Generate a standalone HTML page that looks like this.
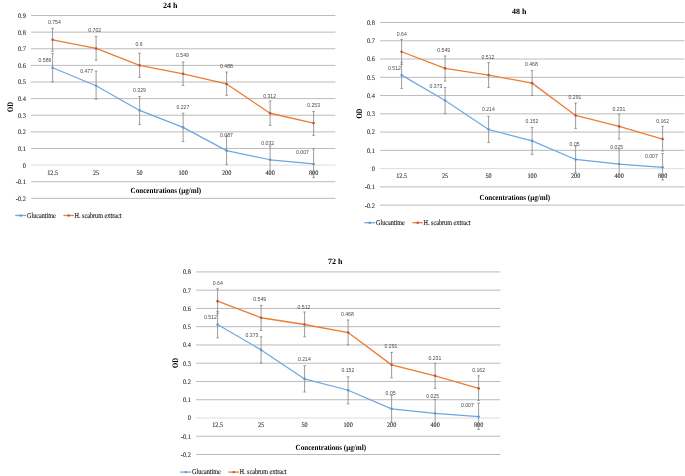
<!DOCTYPE html>
<html><head><meta charset="utf-8"><title>OD charts</title>
<style>html,body{margin:0;padding:0;background:#fff;} svg{display:block;will-change:transform;text-rendering:geometricPrecision;}</style></head>
<body>
<svg width="685" height="476" viewBox="0 0 685 476">
<rect width="685" height="476" fill="#fff"/>
<line x1="31.00" y1="15.52" x2="335.40" y2="15.52" stroke="#b3b3b3" stroke-width="0.9"/>
<text transform="translate(25.80,17.92) scale(1,1.1)" text-anchor="end" font-family='"Liberation Serif", serif' font-size="6.3" fill="#2a2a2a" stroke="#2a2a2a" stroke-width="0.1">0.9</text>
<line x1="31.00" y1="32.14" x2="335.40" y2="32.14" stroke="#b3b3b3" stroke-width="0.9"/>
<text transform="translate(25.80,34.54) scale(1,1.1)" text-anchor="end" font-family='"Liberation Serif", serif' font-size="6.3" fill="#2a2a2a" stroke="#2a2a2a" stroke-width="0.1">0.8</text>
<line x1="31.00" y1="48.76" x2="335.40" y2="48.76" stroke="#b3b3b3" stroke-width="0.9"/>
<text transform="translate(25.80,51.16) scale(1,1.1)" text-anchor="end" font-family='"Liberation Serif", serif' font-size="6.3" fill="#2a2a2a" stroke="#2a2a2a" stroke-width="0.1">0.7</text>
<line x1="31.00" y1="65.38" x2="335.40" y2="65.38" stroke="#b3b3b3" stroke-width="0.9"/>
<text transform="translate(25.80,67.78) scale(1,1.1)" text-anchor="end" font-family='"Liberation Serif", serif' font-size="6.3" fill="#2a2a2a" stroke="#2a2a2a" stroke-width="0.1">0.6</text>
<line x1="31.00" y1="82.00" x2="335.40" y2="82.00" stroke="#b3b3b3" stroke-width="0.9"/>
<text transform="translate(25.80,84.40) scale(1,1.1)" text-anchor="end" font-family='"Liberation Serif", serif' font-size="6.3" fill="#2a2a2a" stroke="#2a2a2a" stroke-width="0.1">0.5</text>
<line x1="31.00" y1="98.62" x2="335.40" y2="98.62" stroke="#b3b3b3" stroke-width="0.9"/>
<text transform="translate(25.80,101.02) scale(1,1.1)" text-anchor="end" font-family='"Liberation Serif", serif' font-size="6.3" fill="#2a2a2a" stroke="#2a2a2a" stroke-width="0.1">0.4</text>
<line x1="31.00" y1="115.24" x2="335.40" y2="115.24" stroke="#b3b3b3" stroke-width="0.9"/>
<text transform="translate(25.80,117.64) scale(1,1.1)" text-anchor="end" font-family='"Liberation Serif", serif' font-size="6.3" fill="#2a2a2a" stroke="#2a2a2a" stroke-width="0.1">0.3</text>
<line x1="31.00" y1="131.86" x2="335.40" y2="131.86" stroke="#b3b3b3" stroke-width="0.9"/>
<text transform="translate(25.80,134.26) scale(1,1.1)" text-anchor="end" font-family='"Liberation Serif", serif' font-size="6.3" fill="#2a2a2a" stroke="#2a2a2a" stroke-width="0.1">0.2</text>
<line x1="31.00" y1="148.48" x2="335.40" y2="148.48" stroke="#b3b3b3" stroke-width="0.9"/>
<text transform="translate(25.80,150.88) scale(1,1.1)" text-anchor="end" font-family='"Liberation Serif", serif' font-size="6.3" fill="#2a2a2a" stroke="#2a2a2a" stroke-width="0.1">0.1</text>
<line x1="31.00" y1="165.10" x2="335.40" y2="165.10" stroke="#d9d9d9" stroke-width="0.9"/>
<text transform="translate(25.80,167.50) scale(1,1.1)" text-anchor="end" font-family='"Liberation Serif", serif' font-size="6.3" fill="#2a2a2a" stroke="#2a2a2a" stroke-width="0.1">0</text>
<line x1="31.00" y1="181.72" x2="335.40" y2="181.72" stroke="#b3b3b3" stroke-width="0.9"/>
<text transform="translate(25.80,184.12) scale(1,1.1)" text-anchor="end" font-family='"Liberation Serif", serif' font-size="6.3" fill="#2a2a2a" stroke="#2a2a2a" stroke-width="0.1">-0.1</text>
<line x1="31.00" y1="198.34" x2="335.40" y2="198.34" stroke="#b3b3b3" stroke-width="0.9"/>
<text transform="translate(25.80,200.74) scale(1,1.1)" text-anchor="end" font-family='"Liberation Serif", serif' font-size="6.3" fill="#2a2a2a" stroke="#2a2a2a" stroke-width="0.1">-0.2</text>
<text transform="translate(52.60,174.60) scale(1,1.12)" text-anchor="middle" font-family='"Liberation Serif", serif' font-size="6.2" fill="#2a2a2a" stroke="#2a2a2a" stroke-width="0.1">12.5</text>
<text transform="translate(96.10,174.60) scale(1,1.12)" text-anchor="middle" font-family='"Liberation Serif", serif' font-size="6.2" fill="#2a2a2a" stroke="#2a2a2a" stroke-width="0.1">25</text>
<text transform="translate(139.60,174.60) scale(1,1.12)" text-anchor="middle" font-family='"Liberation Serif", serif' font-size="6.2" fill="#2a2a2a" stroke="#2a2a2a" stroke-width="0.1">50</text>
<text transform="translate(183.10,174.60) scale(1,1.12)" text-anchor="middle" font-family='"Liberation Serif", serif' font-size="6.2" fill="#2a2a2a" stroke="#2a2a2a" stroke-width="0.1">100</text>
<text transform="translate(226.60,174.60) scale(1,1.12)" text-anchor="middle" font-family='"Liberation Serif", serif' font-size="6.2" fill="#2a2a2a" stroke="#2a2a2a" stroke-width="0.1">200</text>
<text transform="translate(270.10,174.60) scale(1,1.12)" text-anchor="middle" font-family='"Liberation Serif", serif' font-size="6.2" fill="#2a2a2a" stroke="#2a2a2a" stroke-width="0.1">400</text>
<text transform="translate(313.60,174.60) scale(1,1.12)" text-anchor="middle" font-family='"Liberation Serif", serif' font-size="6.2" fill="#2a2a2a" stroke="#2a2a2a" stroke-width="0.1">800</text>
<text transform="translate(170.20,7.60)" text-anchor="middle" font-family='"Liberation Serif", serif' font-size="8" font-weight="bold" fill="#000">24 h</text>
<text transform="translate(165.80,192.90) scale(1,1.1)" text-anchor="middle" font-family='"Liberation Serif", serif' font-size="7.1" font-weight="bold" fill="#000">Concentrations (µg/ml)</text>
<text transform="translate(13.20,107.00) rotate(-90) scale(1,1.25)" text-anchor="middle" font-family='"Liberation Serif", serif' font-size="6.7" font-weight="bold" fill="#000">OD</text>
<line x1="15.30" y1="215.50" x2="26.10" y2="215.50" stroke="#6ea6df" stroke-width="1.3"/>
<circle cx="20.70" cy="215.50" r="1.2" fill="#5B9BD5"/>
<text transform="translate(27.00,217.70) scale(1,1.2)" font-family='"Liberation Serif", serif' font-size="6.2" fill="#222" stroke="#222" stroke-width="0.12">Glucantime</text>
<line x1="63.40" y1="215.50" x2="74.00" y2="215.50" stroke="#ED7D31" stroke-width="1.3"/>
<circle cx="68.70" cy="215.50" r="1.2" fill="#C0504D"/>
<text transform="translate(74.50,217.70) scale(1,1.2)" font-family='"Liberation Serif", serif' font-size="6.2" fill="#222" stroke="#222" stroke-width="0.12">H. scabrum extract</text>
<path d="M52.60 53.60V82.00M51.30 53.60H53.90M51.30 82.00H53.90" stroke="#8a8a8a" stroke-width="0.85" fill="none"/>
<path d="M96.10 71.10V99.20M94.80 71.10H97.40M94.80 99.20H97.40" stroke="#8a8a8a" stroke-width="0.85" fill="none"/>
<path d="M139.60 96.40V124.40M138.30 96.40H140.90M138.30 124.40H140.90" stroke="#8a8a8a" stroke-width="0.85" fill="none"/>
<path d="M183.10 113.20V141.60M181.80 113.20H184.40M181.80 141.60H184.40" stroke="#8a8a8a" stroke-width="0.85" fill="none"/>
<path d="M226.60 136.00V164.60M225.30 136.00H227.90M225.30 164.60H227.90" stroke="#8a8a8a" stroke-width="0.85" fill="none"/>
<path d="M270.10 146.00V174.00M268.80 146.00H271.40M268.80 174.00H271.40" stroke="#8a8a8a" stroke-width="0.85" fill="none"/>
<path d="M313.60 148.80V177.60M312.30 148.80H314.90M312.30 177.60H314.90" stroke="#8a8a8a" stroke-width="0.85" fill="none"/>
<polyline points="52.60,67.71 96.10,85.82 139.60,110.42 183.10,127.37 226.60,150.64 270.10,159.78 313.60,163.94" fill="none" stroke="#6ea6df" stroke-width="1.2" stroke-linejoin="round"/>
<circle cx="52.60" cy="67.71" r="1.3" fill="#5B9BD5"/>
<circle cx="96.10" cy="85.82" r="1.3" fill="#5B9BD5"/>
<circle cx="139.60" cy="110.42" r="1.3" fill="#5B9BD5"/>
<circle cx="183.10" cy="127.37" r="1.3" fill="#5B9BD5"/>
<circle cx="226.60" cy="150.64" r="1.3" fill="#5B9BD5"/>
<circle cx="270.10" cy="159.78" r="1.3" fill="#5B9BD5"/>
<circle cx="313.60" cy="163.94" r="1.3" fill="#5B9BD5"/>
<path d="M52.60 28.40V51.20M51.30 28.40H53.90M51.30 51.20H53.90" stroke="#8a8a8a" stroke-width="0.85" fill="none"/>
<path d="M96.10 36.40V60.30M94.80 36.40H97.40M94.80 60.30H97.40" stroke="#8a8a8a" stroke-width="0.85" fill="none"/>
<path d="M139.60 53.20V77.40M138.30 53.20H140.90M138.30 77.40H140.90" stroke="#8a8a8a" stroke-width="0.85" fill="none"/>
<path d="M183.10 62.00V85.40M181.80 62.00H184.40M181.80 85.40H184.40" stroke="#8a8a8a" stroke-width="0.85" fill="none"/>
<path d="M226.60 72.00V95.40M225.30 72.00H227.90M225.30 95.40H227.90" stroke="#8a8a8a" stroke-width="0.85" fill="none"/>
<path d="M270.10 101.00V125.40M268.80 101.00H271.40M268.80 125.40H271.40" stroke="#8a8a8a" stroke-width="0.85" fill="none"/>
<path d="M313.60 111.40V135.40M312.30 111.40H314.90M312.30 135.40H314.90" stroke="#8a8a8a" stroke-width="0.85" fill="none"/>
<polyline points="52.60,39.79 96.10,48.43 139.60,65.38 183.10,73.86 226.60,83.99 270.10,113.25 313.60,123.05" fill="none" stroke="#ED7D31" stroke-width="1.3" stroke-linejoin="round"/>
<circle cx="52.60" cy="39.79" r="1.3" fill="#C0504D"/>
<circle cx="96.10" cy="48.43" r="1.3" fill="#C0504D"/>
<circle cx="139.60" cy="65.38" r="1.3" fill="#C0504D"/>
<circle cx="183.10" cy="73.86" r="1.3" fill="#C0504D"/>
<circle cx="226.60" cy="83.99" r="1.3" fill="#C0504D"/>
<circle cx="270.10" cy="113.25" r="1.3" fill="#C0504D"/>
<circle cx="313.60" cy="123.05" r="1.3" fill="#C0504D"/>
<text transform="translate(45.00,62.20) scale(1.03,1)" text-anchor="middle" font-family='"Liberation Sans", sans-serif' font-size="5" fill="#4a4a4a" text-rendering="optimizeLegibility">0.586</text>
<text transform="translate(86.60,73.20) scale(1.03,1)" text-anchor="middle" font-family='"Liberation Sans", sans-serif' font-size="5" fill="#4a4a4a" text-rendering="optimizeLegibility">0.477</text>
<text transform="translate(139.50,91.90) scale(1.03,1)" text-anchor="middle" font-family='"Liberation Sans", sans-serif' font-size="5" fill="#4a4a4a" text-rendering="optimizeLegibility">0.329</text>
<text transform="translate(182.80,109.10) scale(1.03,1)" text-anchor="middle" font-family='"Liberation Sans", sans-serif' font-size="5" fill="#4a4a4a" text-rendering="optimizeLegibility">0.227</text>
<text transform="translate(226.50,136.90) scale(1.03,1)" text-anchor="middle" font-family='"Liberation Sans", sans-serif' font-size="5" fill="#4a4a4a" text-rendering="optimizeLegibility">0.087</text>
<text transform="translate(267.70,144.50) scale(1.03,1)" text-anchor="middle" font-family='"Liberation Sans", sans-serif' font-size="5" fill="#4a4a4a" text-rendering="optimizeLegibility">0.032</text>
<text transform="translate(302.50,153.50) scale(1.03,1)" text-anchor="middle" font-family='"Liberation Sans", sans-serif' font-size="5" fill="#4a4a4a" text-rendering="optimizeLegibility">0.007</text>
<text transform="translate(54.30,24.10) scale(1.03,1)" text-anchor="middle" font-family='"Liberation Sans", sans-serif' font-size="5" fill="#4a4a4a" text-rendering="optimizeLegibility">0.754</text>
<text transform="translate(94.70,32.30) scale(1.03,1)" text-anchor="middle" font-family='"Liberation Sans", sans-serif' font-size="5" fill="#4a4a4a" text-rendering="optimizeLegibility">0.702</text>
<text transform="translate(139.00,45.50) scale(1.03,1)" text-anchor="middle" font-family='"Liberation Sans", sans-serif' font-size="5" fill="#4a4a4a" text-rendering="optimizeLegibility">0.6</text>
<text transform="translate(182.50,56.90) scale(1.03,1)" text-anchor="middle" font-family='"Liberation Sans", sans-serif' font-size="5" fill="#4a4a4a" text-rendering="optimizeLegibility">0.549</text>
<text transform="translate(226.50,67.90) scale(1.03,1)" text-anchor="middle" font-family='"Liberation Sans", sans-serif' font-size="5" fill="#4a4a4a" text-rendering="optimizeLegibility">0.488</text>
<text transform="translate(269.60,97.70) scale(1.03,1)" text-anchor="middle" font-family='"Liberation Sans", sans-serif' font-size="5" fill="#4a4a4a" text-rendering="optimizeLegibility">0.312</text>
<text transform="translate(313.60,106.90) scale(1.03,1)" text-anchor="middle" font-family='"Liberation Sans", sans-serif' font-size="5" fill="#4a4a4a" text-rendering="optimizeLegibility">0.253</text>
<line x1="380.00" y1="22.52" x2="684.40" y2="22.52" stroke="#b3b3b3" stroke-width="0.9"/>
<text transform="translate(374.80,24.92) scale(1,1.1)" text-anchor="end" font-family='"Liberation Serif", serif' font-size="6.3" fill="#2a2a2a" stroke="#2a2a2a" stroke-width="0.1">0.8</text>
<line x1="380.00" y1="40.78" x2="684.40" y2="40.78" stroke="#b3b3b3" stroke-width="0.9"/>
<text transform="translate(374.80,43.18) scale(1,1.1)" text-anchor="end" font-family='"Liberation Serif", serif' font-size="6.3" fill="#2a2a2a" stroke="#2a2a2a" stroke-width="0.1">0.7</text>
<line x1="380.00" y1="59.04" x2="684.40" y2="59.04" stroke="#b3b3b3" stroke-width="0.9"/>
<text transform="translate(374.80,61.44) scale(1,1.1)" text-anchor="end" font-family='"Liberation Serif", serif' font-size="6.3" fill="#2a2a2a" stroke="#2a2a2a" stroke-width="0.1">0.6</text>
<line x1="380.00" y1="77.30" x2="684.40" y2="77.30" stroke="#b3b3b3" stroke-width="0.9"/>
<text transform="translate(374.80,79.70) scale(1,1.1)" text-anchor="end" font-family='"Liberation Serif", serif' font-size="6.3" fill="#2a2a2a" stroke="#2a2a2a" stroke-width="0.1">0.5</text>
<line x1="380.00" y1="95.56" x2="684.40" y2="95.56" stroke="#b3b3b3" stroke-width="0.9"/>
<text transform="translate(374.80,97.96) scale(1,1.1)" text-anchor="end" font-family='"Liberation Serif", serif' font-size="6.3" fill="#2a2a2a" stroke="#2a2a2a" stroke-width="0.1">0.4</text>
<line x1="380.00" y1="113.82" x2="684.40" y2="113.82" stroke="#b3b3b3" stroke-width="0.9"/>
<text transform="translate(374.80,116.22) scale(1,1.1)" text-anchor="end" font-family='"Liberation Serif", serif' font-size="6.3" fill="#2a2a2a" stroke="#2a2a2a" stroke-width="0.1">0.3</text>
<line x1="380.00" y1="132.08" x2="684.40" y2="132.08" stroke="#b3b3b3" stroke-width="0.9"/>
<text transform="translate(374.80,134.48) scale(1,1.1)" text-anchor="end" font-family='"Liberation Serif", serif' font-size="6.3" fill="#2a2a2a" stroke="#2a2a2a" stroke-width="0.1">0.2</text>
<line x1="380.00" y1="150.34" x2="684.40" y2="150.34" stroke="#b3b3b3" stroke-width="0.9"/>
<text transform="translate(374.80,152.74) scale(1,1.1)" text-anchor="end" font-family='"Liberation Serif", serif' font-size="6.3" fill="#2a2a2a" stroke="#2a2a2a" stroke-width="0.1">0.1</text>
<line x1="380.00" y1="168.60" x2="684.40" y2="168.60" stroke="#d9d9d9" stroke-width="0.9"/>
<text transform="translate(374.80,171.00) scale(1,1.1)" text-anchor="end" font-family='"Liberation Serif", serif' font-size="6.3" fill="#2a2a2a" stroke="#2a2a2a" stroke-width="0.1">0</text>
<line x1="380.00" y1="186.86" x2="684.40" y2="186.86" stroke="#b3b3b3" stroke-width="0.9"/>
<text transform="translate(374.80,189.26) scale(1,1.1)" text-anchor="end" font-family='"Liberation Serif", serif' font-size="6.3" fill="#2a2a2a" stroke="#2a2a2a" stroke-width="0.1">-0.1</text>
<line x1="380.00" y1="205.12" x2="684.40" y2="205.12" stroke="#b3b3b3" stroke-width="0.9"/>
<text transform="translate(374.80,207.52) scale(1,1.1)" text-anchor="end" font-family='"Liberation Serif", serif' font-size="6.3" fill="#2a2a2a" stroke="#2a2a2a" stroke-width="0.1">-0.2</text>
<text transform="translate(401.60,177.85) scale(1,1.12)" text-anchor="middle" font-family='"Liberation Serif", serif' font-size="6.2" fill="#2a2a2a" stroke="#2a2a2a" stroke-width="0.1">12.5</text>
<text transform="translate(445.10,177.85) scale(1,1.12)" text-anchor="middle" font-family='"Liberation Serif", serif' font-size="6.2" fill="#2a2a2a" stroke="#2a2a2a" stroke-width="0.1">25</text>
<text transform="translate(488.60,177.85) scale(1,1.12)" text-anchor="middle" font-family='"Liberation Serif", serif' font-size="6.2" fill="#2a2a2a" stroke="#2a2a2a" stroke-width="0.1">50</text>
<text transform="translate(532.10,177.85) scale(1,1.12)" text-anchor="middle" font-family='"Liberation Serif", serif' font-size="6.2" fill="#2a2a2a" stroke="#2a2a2a" stroke-width="0.1">100</text>
<text transform="translate(575.60,177.85) scale(1,1.12)" text-anchor="middle" font-family='"Liberation Serif", serif' font-size="6.2" fill="#2a2a2a" stroke="#2a2a2a" stroke-width="0.1">200</text>
<text transform="translate(619.10,177.85) scale(1,1.12)" text-anchor="middle" font-family='"Liberation Serif", serif' font-size="6.2" fill="#2a2a2a" stroke="#2a2a2a" stroke-width="0.1">400</text>
<text transform="translate(662.60,177.85) scale(1,1.12)" text-anchor="middle" font-family='"Liberation Serif", serif' font-size="6.2" fill="#2a2a2a" stroke="#2a2a2a" stroke-width="0.1">800</text>
<text transform="translate(519.20,14.30)" text-anchor="middle" font-family='"Liberation Serif", serif' font-size="8" font-weight="bold" fill="#000">48 h</text>
<text transform="translate(514.80,200.10) scale(1,1.1)" text-anchor="middle" font-family='"Liberation Serif", serif' font-size="7.1" font-weight="bold" fill="#000">Concentrations (µg/ml)</text>
<text transform="translate(362.20,113.60) rotate(-90) scale(1,1.25)" text-anchor="middle" font-family='"Liberation Serif", serif' font-size="6.7" font-weight="bold" fill="#000">OD</text>
<line x1="364.30" y1="222.70" x2="375.10" y2="222.70" stroke="#6ea6df" stroke-width="1.3"/>
<circle cx="369.70" cy="222.70" r="1.2" fill="#5B9BD5"/>
<text transform="translate(376.00,224.90) scale(1,1.2)" font-family='"Liberation Serif", serif' font-size="6.2" fill="#222" stroke="#222" stroke-width="0.12">Glucantime</text>
<line x1="412.40" y1="222.70" x2="423.00" y2="222.70" stroke="#ED7D31" stroke-width="1.3"/>
<circle cx="417.70" cy="222.70" r="1.2" fill="#C0504D"/>
<text transform="translate(423.50,224.90) scale(1,1.2)" font-family='"Liberation Serif", serif' font-size="6.2" fill="#222" stroke="#222" stroke-width="0.12">H. scabrum extract</text>
<path d="M401.60 62.20V88.40M400.30 62.20H402.90M400.30 88.40H402.90" stroke="#8a8a8a" stroke-width="0.85" fill="none"/>
<path d="M445.10 87.40V113.60M443.80 87.40H446.40M443.80 113.60H446.40" stroke="#8a8a8a" stroke-width="0.85" fill="none"/>
<path d="M488.60 116.40V142.60M487.30 116.40H489.90M487.30 142.60H489.90" stroke="#8a8a8a" stroke-width="0.85" fill="none"/>
<path d="M532.10 127.40V154.40M530.80 127.40H533.40M530.80 154.40H533.40" stroke="#8a8a8a" stroke-width="0.85" fill="none"/>
<path d="M575.60 146.00V172.60M574.30 146.00H576.90M574.30 172.60H576.90" stroke="#8a8a8a" stroke-width="0.85" fill="none"/>
<path d="M619.10 150.00V177.00M617.80 150.00H620.40M617.80 177.00H620.40" stroke="#8a8a8a" stroke-width="0.85" fill="none"/>
<path d="M662.60 153.60V180.00M661.30 153.60H663.90M661.30 180.00H663.90" stroke="#8a8a8a" stroke-width="0.85" fill="none"/>
<polyline points="401.60,75.11 445.10,100.49 488.60,129.52 532.10,140.84 575.60,159.47 619.10,164.03 662.60,167.32" fill="none" stroke="#6ea6df" stroke-width="1.2" stroke-linejoin="round"/>
<circle cx="401.60" cy="75.11" r="1.3" fill="#5B9BD5"/>
<circle cx="445.10" cy="100.49" r="1.3" fill="#5B9BD5"/>
<circle cx="488.60" cy="129.52" r="1.3" fill="#5B9BD5"/>
<circle cx="532.10" cy="140.84" r="1.3" fill="#5B9BD5"/>
<circle cx="575.60" cy="159.47" r="1.3" fill="#5B9BD5"/>
<circle cx="619.10" cy="164.03" r="1.3" fill="#5B9BD5"/>
<circle cx="662.60" cy="167.32" r="1.3" fill="#5B9BD5"/>
<path d="M401.60 39.40V64.40M400.30 39.40H402.90M400.30 64.40H402.90" stroke="#8a8a8a" stroke-width="0.85" fill="none"/>
<path d="M445.10 56.00V81.00M443.80 56.00H446.40M443.80 81.00H446.40" stroke="#8a8a8a" stroke-width="0.85" fill="none"/>
<path d="M488.60 62.60V87.40M487.30 62.60H489.90M487.30 87.40H489.90" stroke="#8a8a8a" stroke-width="0.85" fill="none"/>
<path d="M532.10 70.60V95.40M530.80 70.60H533.40M530.80 95.40H533.40" stroke="#8a8a8a" stroke-width="0.85" fill="none"/>
<path d="M575.60 103.00V128.40M574.30 103.00H576.90M574.30 128.40H576.90" stroke="#8a8a8a" stroke-width="0.85" fill="none"/>
<path d="M619.10 114.00V139.00M617.80 114.00H620.40M617.80 139.00H620.40" stroke="#8a8a8a" stroke-width="0.85" fill="none"/>
<path d="M662.60 126.40V151.00M661.30 126.40H663.90M661.30 151.00H663.90" stroke="#8a8a8a" stroke-width="0.85" fill="none"/>
<polyline points="401.60,51.74 445.10,68.35 488.60,75.11 532.10,83.14 575.60,115.46 619.10,126.42 662.60,139.02" fill="none" stroke="#ED7D31" stroke-width="1.3" stroke-linejoin="round"/>
<circle cx="401.60" cy="51.74" r="1.3" fill="#C0504D"/>
<circle cx="445.10" cy="68.35" r="1.3" fill="#C0504D"/>
<circle cx="488.60" cy="75.11" r="1.3" fill="#C0504D"/>
<circle cx="532.10" cy="83.14" r="1.3" fill="#C0504D"/>
<circle cx="575.60" cy="115.46" r="1.3" fill="#C0504D"/>
<circle cx="619.10" cy="126.42" r="1.3" fill="#C0504D"/>
<circle cx="662.60" cy="139.02" r="1.3" fill="#C0504D"/>
<text transform="translate(394.50,69.90) scale(1.03,1)" text-anchor="middle" font-family='"Liberation Sans", sans-serif' font-size="5" fill="#4a4a4a" text-rendering="optimizeLegibility">0.512</text>
<text transform="translate(436.00,87.90) scale(1.03,1)" text-anchor="middle" font-family='"Liberation Sans", sans-serif' font-size="5" fill="#4a4a4a" text-rendering="optimizeLegibility">0.373</text>
<text transform="translate(488.40,111.10) scale(1.03,1)" text-anchor="middle" font-family='"Liberation Sans", sans-serif' font-size="5" fill="#4a4a4a" text-rendering="optimizeLegibility">0.214</text>
<text transform="translate(531.80,122.70) scale(1.03,1)" text-anchor="middle" font-family='"Liberation Sans", sans-serif' font-size="5" fill="#4a4a4a" text-rendering="optimizeLegibility">0.152</text>
<text transform="translate(574.60,145.90) scale(1.03,1)" text-anchor="middle" font-family='"Liberation Sans", sans-serif' font-size="5" fill="#4a4a4a" text-rendering="optimizeLegibility">0.05</text>
<text transform="translate(616.70,148.90) scale(1.03,1)" text-anchor="middle" font-family='"Liberation Sans", sans-serif' font-size="5" fill="#4a4a4a" text-rendering="optimizeLegibility">0.025</text>
<text transform="translate(651.40,157.90) scale(1.03,1)" text-anchor="middle" font-family='"Liberation Sans", sans-serif' font-size="5" fill="#4a4a4a" text-rendering="optimizeLegibility">0.007</text>
<text transform="translate(401.80,35.70) scale(1.03,1)" text-anchor="middle" font-family='"Liberation Sans", sans-serif' font-size="5" fill="#4a4a4a" text-rendering="optimizeLegibility">0.64</text>
<text transform="translate(443.70,51.90) scale(1.03,1)" text-anchor="middle" font-family='"Liberation Sans", sans-serif' font-size="5" fill="#4a4a4a" text-rendering="optimizeLegibility">0.549</text>
<text transform="translate(488.00,59.30) scale(1.03,1)" text-anchor="middle" font-family='"Liberation Sans", sans-serif' font-size="5" fill="#4a4a4a" text-rendering="optimizeLegibility">0.512</text>
<text transform="translate(531.40,66.30) scale(1.03,1)" text-anchor="middle" font-family='"Liberation Sans", sans-serif' font-size="5" fill="#4a4a4a" text-rendering="optimizeLegibility">0.468</text>
<text transform="translate(575.00,98.70) scale(1.03,1)" text-anchor="middle" font-family='"Liberation Sans", sans-serif' font-size="5" fill="#4a4a4a" text-rendering="optimizeLegibility">0.291</text>
<text transform="translate(618.90,110.50) scale(1.03,1)" text-anchor="middle" font-family='"Liberation Sans", sans-serif' font-size="5" fill="#4a4a4a" text-rendering="optimizeLegibility">0.231</text>
<text transform="translate(662.60,122.90) scale(1.03,1)" text-anchor="middle" font-family='"Liberation Sans", sans-serif' font-size="5" fill="#4a4a4a" text-rendering="optimizeLegibility">0.162</text>
<line x1="196.00" y1="271.92" x2="500.40" y2="271.92" stroke="#b3b3b3" stroke-width="0.9"/>
<text transform="translate(190.80,274.32) scale(1,1.1)" text-anchor="end" font-family='"Liberation Serif", serif' font-size="6.3" fill="#2a2a2a" stroke="#2a2a2a" stroke-width="0.1">0.8</text>
<line x1="196.00" y1="290.18" x2="500.40" y2="290.18" stroke="#b3b3b3" stroke-width="0.9"/>
<text transform="translate(190.80,292.58) scale(1,1.1)" text-anchor="end" font-family='"Liberation Serif", serif' font-size="6.3" fill="#2a2a2a" stroke="#2a2a2a" stroke-width="0.1">0.7</text>
<line x1="196.00" y1="308.44" x2="500.40" y2="308.44" stroke="#b3b3b3" stroke-width="0.9"/>
<text transform="translate(190.80,310.84) scale(1,1.1)" text-anchor="end" font-family='"Liberation Serif", serif' font-size="6.3" fill="#2a2a2a" stroke="#2a2a2a" stroke-width="0.1">0.6</text>
<line x1="196.00" y1="326.70" x2="500.40" y2="326.70" stroke="#b3b3b3" stroke-width="0.9"/>
<text transform="translate(190.80,329.10) scale(1,1.1)" text-anchor="end" font-family='"Liberation Serif", serif' font-size="6.3" fill="#2a2a2a" stroke="#2a2a2a" stroke-width="0.1">0.5</text>
<line x1="196.00" y1="344.96" x2="500.40" y2="344.96" stroke="#b3b3b3" stroke-width="0.9"/>
<text transform="translate(190.80,347.36) scale(1,1.1)" text-anchor="end" font-family='"Liberation Serif", serif' font-size="6.3" fill="#2a2a2a" stroke="#2a2a2a" stroke-width="0.1">0.4</text>
<line x1="196.00" y1="363.22" x2="500.40" y2="363.22" stroke="#b3b3b3" stroke-width="0.9"/>
<text transform="translate(190.80,365.62) scale(1,1.1)" text-anchor="end" font-family='"Liberation Serif", serif' font-size="6.3" fill="#2a2a2a" stroke="#2a2a2a" stroke-width="0.1">0.3</text>
<line x1="196.00" y1="381.48" x2="500.40" y2="381.48" stroke="#b3b3b3" stroke-width="0.9"/>
<text transform="translate(190.80,383.88) scale(1,1.1)" text-anchor="end" font-family='"Liberation Serif", serif' font-size="6.3" fill="#2a2a2a" stroke="#2a2a2a" stroke-width="0.1">0.2</text>
<line x1="196.00" y1="399.74" x2="500.40" y2="399.74" stroke="#b3b3b3" stroke-width="0.9"/>
<text transform="translate(190.80,402.14) scale(1,1.1)" text-anchor="end" font-family='"Liberation Serif", serif' font-size="6.3" fill="#2a2a2a" stroke="#2a2a2a" stroke-width="0.1">0.1</text>
<line x1="196.00" y1="418.00" x2="500.40" y2="418.00" stroke="#d9d9d9" stroke-width="0.9"/>
<text transform="translate(190.80,420.40) scale(1,1.1)" text-anchor="end" font-family='"Liberation Serif", serif' font-size="6.3" fill="#2a2a2a" stroke="#2a2a2a" stroke-width="0.1">0</text>
<line x1="196.00" y1="436.26" x2="500.40" y2="436.26" stroke="#b3b3b3" stroke-width="0.9"/>
<text transform="translate(190.80,438.66) scale(1,1.1)" text-anchor="end" font-family='"Liberation Serif", serif' font-size="6.3" fill="#2a2a2a" stroke="#2a2a2a" stroke-width="0.1">-0.1</text>
<line x1="196.00" y1="454.52" x2="500.40" y2="454.52" stroke="#b3b3b3" stroke-width="0.9"/>
<text transform="translate(190.80,456.92) scale(1,1.1)" text-anchor="end" font-family='"Liberation Serif", serif' font-size="6.3" fill="#2a2a2a" stroke="#2a2a2a" stroke-width="0.1">-0.2</text>
<text transform="translate(217.60,427.25) scale(1,1.12)" text-anchor="middle" font-family='"Liberation Serif", serif' font-size="6.2" fill="#2a2a2a" stroke="#2a2a2a" stroke-width="0.1">12.5</text>
<text transform="translate(261.10,427.25) scale(1,1.12)" text-anchor="middle" font-family='"Liberation Serif", serif' font-size="6.2" fill="#2a2a2a" stroke="#2a2a2a" stroke-width="0.1">25</text>
<text transform="translate(304.60,427.25) scale(1,1.12)" text-anchor="middle" font-family='"Liberation Serif", serif' font-size="6.2" fill="#2a2a2a" stroke="#2a2a2a" stroke-width="0.1">50</text>
<text transform="translate(348.10,427.25) scale(1,1.12)" text-anchor="middle" font-family='"Liberation Serif", serif' font-size="6.2" fill="#2a2a2a" stroke="#2a2a2a" stroke-width="0.1">100</text>
<text transform="translate(391.60,427.25) scale(1,1.12)" text-anchor="middle" font-family='"Liberation Serif", serif' font-size="6.2" fill="#2a2a2a" stroke="#2a2a2a" stroke-width="0.1">200</text>
<text transform="translate(435.10,427.25) scale(1,1.12)" text-anchor="middle" font-family='"Liberation Serif", serif' font-size="6.2" fill="#2a2a2a" stroke="#2a2a2a" stroke-width="0.1">400</text>
<text transform="translate(478.60,427.25) scale(1,1.12)" text-anchor="middle" font-family='"Liberation Serif", serif' font-size="6.2" fill="#2a2a2a" stroke="#2a2a2a" stroke-width="0.1">800</text>
<text transform="translate(335.20,263.70)" text-anchor="middle" font-family='"Liberation Serif", serif' font-size="8" font-weight="bold" fill="#000">72 h</text>
<text transform="translate(330.80,449.50) scale(1,1.1)" text-anchor="middle" font-family='"Liberation Serif", serif' font-size="7.1" font-weight="bold" fill="#000">Concentrations (µg/ml)</text>
<text transform="translate(178.20,363.00) rotate(-90) scale(1,1.25)" text-anchor="middle" font-family='"Liberation Serif", serif' font-size="6.7" font-weight="bold" fill="#000">OD</text>
<line x1="180.30" y1="472.10" x2="191.10" y2="472.10" stroke="#6ea6df" stroke-width="1.3"/>
<circle cx="185.70" cy="472.10" r="1.2" fill="#5B9BD5"/>
<text transform="translate(192.00,474.30) scale(1,1.2)" font-family='"Liberation Serif", serif' font-size="6.2" fill="#222" stroke="#222" stroke-width="0.12">Glucantime</text>
<line x1="228.40" y1="472.10" x2="239.00" y2="472.10" stroke="#ED7D31" stroke-width="1.3"/>
<circle cx="233.70" cy="472.10" r="1.2" fill="#C0504D"/>
<text transform="translate(239.50,474.30) scale(1,1.2)" font-family='"Liberation Serif", serif' font-size="6.2" fill="#222" stroke="#222" stroke-width="0.12">H. scabrum extract</text>
<path d="M217.60 311.60V337.80M216.30 311.60H218.90M216.30 337.80H218.90" stroke="#8a8a8a" stroke-width="0.85" fill="none"/>
<path d="M261.10 336.80V363.00M259.80 336.80H262.40M259.80 363.00H262.40" stroke="#8a8a8a" stroke-width="0.85" fill="none"/>
<path d="M304.60 365.80V392.00M303.30 365.80H305.90M303.30 392.00H305.90" stroke="#8a8a8a" stroke-width="0.85" fill="none"/>
<path d="M348.10 376.80V403.80M346.80 376.80H349.40M346.80 403.80H349.40" stroke="#8a8a8a" stroke-width="0.85" fill="none"/>
<path d="M391.60 395.40V422.00M390.30 395.40H392.90M390.30 422.00H392.90" stroke="#8a8a8a" stroke-width="0.85" fill="none"/>
<path d="M435.10 399.40V426.40M433.80 399.40H436.40M433.80 426.40H436.40" stroke="#8a8a8a" stroke-width="0.85" fill="none"/>
<path d="M478.60 403.00V429.40M477.30 403.00H479.90M477.30 429.40H479.90" stroke="#8a8a8a" stroke-width="0.85" fill="none"/>
<polyline points="217.60,324.51 261.10,349.89 304.60,378.92 348.10,390.24 391.60,408.87 435.10,413.44 478.60,416.72" fill="none" stroke="#6ea6df" stroke-width="1.2" stroke-linejoin="round"/>
<circle cx="217.60" cy="324.51" r="1.3" fill="#5B9BD5"/>
<circle cx="261.10" cy="349.89" r="1.3" fill="#5B9BD5"/>
<circle cx="304.60" cy="378.92" r="1.3" fill="#5B9BD5"/>
<circle cx="348.10" cy="390.24" r="1.3" fill="#5B9BD5"/>
<circle cx="391.60" cy="408.87" r="1.3" fill="#5B9BD5"/>
<circle cx="435.10" cy="413.44" r="1.3" fill="#5B9BD5"/>
<circle cx="478.60" cy="416.72" r="1.3" fill="#5B9BD5"/>
<path d="M217.60 288.80V313.80M216.30 288.80H218.90M216.30 313.80H218.90" stroke="#8a8a8a" stroke-width="0.85" fill="none"/>
<path d="M261.10 305.40V330.40M259.80 305.40H262.40M259.80 330.40H262.40" stroke="#8a8a8a" stroke-width="0.85" fill="none"/>
<path d="M304.60 312.00V336.80M303.30 312.00H305.90M303.30 336.80H305.90" stroke="#8a8a8a" stroke-width="0.85" fill="none"/>
<path d="M348.10 320.00V344.80M346.80 320.00H349.40M346.80 344.80H349.40" stroke="#8a8a8a" stroke-width="0.85" fill="none"/>
<path d="M391.60 352.40V377.80M390.30 352.40H392.90M390.30 377.80H392.90" stroke="#8a8a8a" stroke-width="0.85" fill="none"/>
<path d="M435.10 363.40V388.40M433.80 363.40H436.40M433.80 388.40H436.40" stroke="#8a8a8a" stroke-width="0.85" fill="none"/>
<path d="M478.60 375.80V400.40M477.30 375.80H479.90M477.30 400.40H479.90" stroke="#8a8a8a" stroke-width="0.85" fill="none"/>
<polyline points="217.60,301.14 261.10,317.75 304.60,324.51 348.10,332.54 391.60,364.86 435.10,375.82 478.60,388.42" fill="none" stroke="#ED7D31" stroke-width="1.3" stroke-linejoin="round"/>
<circle cx="217.60" cy="301.14" r="1.3" fill="#C0504D"/>
<circle cx="261.10" cy="317.75" r="1.3" fill="#C0504D"/>
<circle cx="304.60" cy="324.51" r="1.3" fill="#C0504D"/>
<circle cx="348.10" cy="332.54" r="1.3" fill="#C0504D"/>
<circle cx="391.60" cy="364.86" r="1.3" fill="#C0504D"/>
<circle cx="435.10" cy="375.82" r="1.3" fill="#C0504D"/>
<circle cx="478.60" cy="388.42" r="1.3" fill="#C0504D"/>
<text transform="translate(210.50,319.30) scale(1.03,1)" text-anchor="middle" font-family='"Liberation Sans", sans-serif' font-size="5" fill="#4a4a4a" text-rendering="optimizeLegibility">0.512</text>
<text transform="translate(252.00,337.30) scale(1.03,1)" text-anchor="middle" font-family='"Liberation Sans", sans-serif' font-size="5" fill="#4a4a4a" text-rendering="optimizeLegibility">0.373</text>
<text transform="translate(304.40,360.50) scale(1.03,1)" text-anchor="middle" font-family='"Liberation Sans", sans-serif' font-size="5" fill="#4a4a4a" text-rendering="optimizeLegibility">0.214</text>
<text transform="translate(347.80,372.10) scale(1.03,1)" text-anchor="middle" font-family='"Liberation Sans", sans-serif' font-size="5" fill="#4a4a4a" text-rendering="optimizeLegibility">0.152</text>
<text transform="translate(390.60,395.30) scale(1.03,1)" text-anchor="middle" font-family='"Liberation Sans", sans-serif' font-size="5" fill="#4a4a4a" text-rendering="optimizeLegibility">0.05</text>
<text transform="translate(432.70,398.30) scale(1.03,1)" text-anchor="middle" font-family='"Liberation Sans", sans-serif' font-size="5" fill="#4a4a4a" text-rendering="optimizeLegibility">0.025</text>
<text transform="translate(467.40,407.30) scale(1.03,1)" text-anchor="middle" font-family='"Liberation Sans", sans-serif' font-size="5" fill="#4a4a4a" text-rendering="optimizeLegibility">0.007</text>
<text transform="translate(217.80,285.10) scale(1.03,1)" text-anchor="middle" font-family='"Liberation Sans", sans-serif' font-size="5" fill="#4a4a4a" text-rendering="optimizeLegibility">0.64</text>
<text transform="translate(259.70,301.30) scale(1.03,1)" text-anchor="middle" font-family='"Liberation Sans", sans-serif' font-size="5" fill="#4a4a4a" text-rendering="optimizeLegibility">0.549</text>
<text transform="translate(304.00,308.70) scale(1.03,1)" text-anchor="middle" font-family='"Liberation Sans", sans-serif' font-size="5" fill="#4a4a4a" text-rendering="optimizeLegibility">0.512</text>
<text transform="translate(347.40,315.70) scale(1.03,1)" text-anchor="middle" font-family='"Liberation Sans", sans-serif' font-size="5" fill="#4a4a4a" text-rendering="optimizeLegibility">0.468</text>
<text transform="translate(391.00,348.10) scale(1.03,1)" text-anchor="middle" font-family='"Liberation Sans", sans-serif' font-size="5" fill="#4a4a4a" text-rendering="optimizeLegibility">0.291</text>
<text transform="translate(434.90,359.90) scale(1.03,1)" text-anchor="middle" font-family='"Liberation Sans", sans-serif' font-size="5" fill="#4a4a4a" text-rendering="optimizeLegibility">0.231</text>
<text transform="translate(478.60,372.30) scale(1.03,1)" text-anchor="middle" font-family='"Liberation Sans", sans-serif' font-size="5" fill="#4a4a4a" text-rendering="optimizeLegibility">0.162</text>
</svg>
</body></html>
